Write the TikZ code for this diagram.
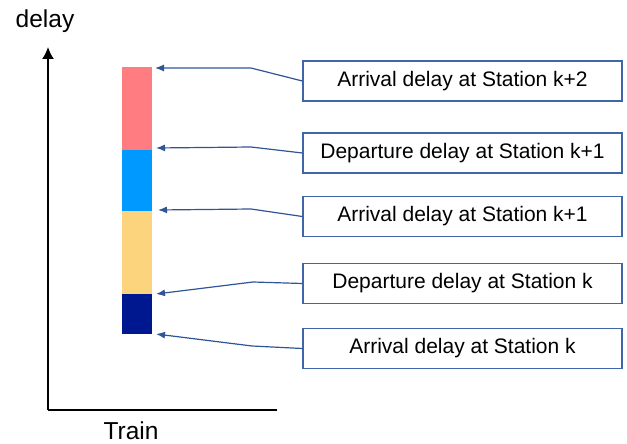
\documentclass[tikz,border=0pt]{standalone}
\usepackage{fontspec}
\setmainfont{Liberation Sans}
\usetikzlibrary{arrows.meta}
\definecolor{segred}{HTML}{FF7C80}
\definecolor{segblue}{HTML}{0099FF}
\definecolor{segyellow}{HTML}{FDD47E}
\definecolor{segnavy}{HTML}{00188F}
\definecolor{linkblue}{HTML}{2F5597}
\definecolor{boxblue}{HTML}{4066A8}
\begin{document}
\begin{tikzpicture}[x=1pt,y=-1pt,
  label/.style={draw=boxblue,line width=1.3pt,minimum width=319pt,minimum height=40pt,
    inner sep=0pt,font=\fontsize{21}{25}\selectfont},
  axislabel/.style={font=\fontsize{24.5}{28}\selectfont,inner sep=0pt},
  pointer/.style={draw=linkblue,line width=1.2pt,-{Latex[length=9pt,width=7pt]}},
  axisline/.style={draw=black,line width=1.6pt}]
\useasboundingbox (0,0) rectangle (627,444);

% stacked delay bar
\fill[segred]    (122,67)  rectangle (152,150);
\fill[segblue]   (122,150) rectangle (152,211);
\fill[segyellow] (122,211) rectangle (152,294);
\fill[segnavy]   (122,294) rectangle (152,334);

% axes
\coordinate (origin) at (48,410);
\coordinate (ytop) at (48,47);
\coordinate (xend) at (277,410);
\draw[axisline,-{Latex[length=12pt,width=12pt]}] (origin) -- (ytop);
\draw[axisline] (origin) -- (xend);
\node[axislabel] (ylab) at (45,21) {delay};
\node[axislabel] (xlab) at (131,431) {Train};

% labels
\node[label] (a2) at (462.5,81)  {Arrival delay at Station k+2};
\node[label] (d1) at (462.5,153) {Departure delay at Station k+1};
\node[label] (a1) at (462.5,216.5) {Arrival delay at Station k+1};
\node[label] (d0) at (462.5,283.5) {Departure delay at Station k};
\node[label] (a0) at (462.5,348.5) {Arrival delay at Station k};

% bends and tips of the pointers
\coordinate (b1) at (251,68);  \coordinate (t1) at (155,68);
\coordinate (b2) at (251,147); \coordinate (t2) at (156,148);
\coordinate (b3) at (251,209); \coordinate (t3) at (158,210);
\coordinate (b4) at (253,282); \coordinate (t4) at (156,294);
\coordinate (b5) at (252,346); \coordinate (t5) at (156,334);

\draw[pointer] (a2.west) -- (b1) -- (t1);
\draw[pointer] (d1.west) -- (b2) -- (t2);
\draw[pointer] (a1.west) -- (b3) -- (t3);
\draw[pointer] (d0.west) -- (b4) -- (t4);
\draw[pointer] (a0.west) -- (b5) -- (t5);
\end{tikzpicture}
\end{document}
